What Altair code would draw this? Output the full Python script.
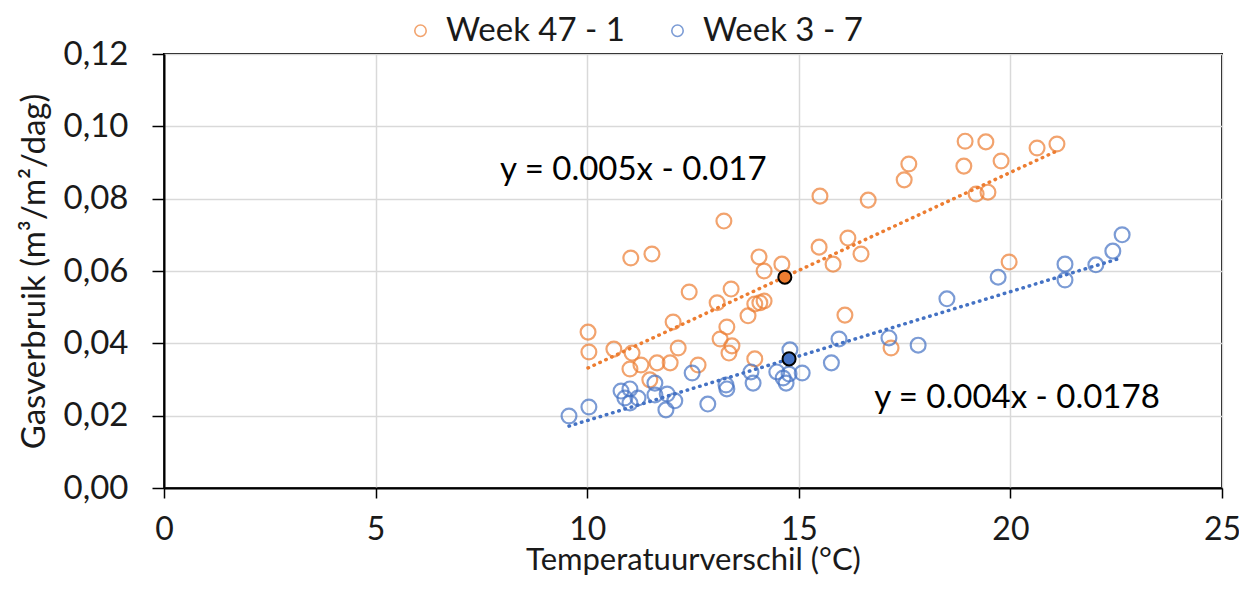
import altair as alt
import pandas as pd

series_names = ["Week 47 - 1", "Week 3 - 7"]
series_colors = ["#ED7D31", "#4472C4"]

orange_x = [10.02, 10.04, 10.63, 11.03, 11.53, 11.06, 11.01, 11.27, 11.48, 11.65, 11.96, 12.03,
            12.15, 12.41, 12.62, 13.07, 13.23, 13.14, 13.30, 13.35, 13.40, 13.42, 13.80, 13.96,
            14.08, 14.18, 13.96, 14.06, 14.18, 14.60, 15.48, 15.50, 15.81, 16.09, 16.16, 16.47,
            16.64, 17.18, 17.49, 17.60, 18.90, 18.93, 19.19, 19.42, 19.47, 19.78, 19.97, 20.63, 21.10]
orange_y = [0.0431, 0.0376, 0.0384, 0.0636, 0.0647, 0.0373, 0.0329, 0.0340, 0.0299, 0.0346, 0.0346, 0.0459,
            0.0387, 0.0542, 0.0340, 0.0512, 0.0738, 0.0412, 0.0445, 0.0373, 0.0550, 0.0393, 0.0476, 0.0509,
            0.0512, 0.0517, 0.0357, 0.0639, 0.0600, 0.0619, 0.0666, 0.0807, 0.0619, 0.0478, 0.0691, 0.0647,
            0.0796, 0.0387, 0.0852, 0.0896, 0.0890, 0.0959, 0.0813, 0.0957, 0.0818, 0.0904, 0.0625, 0.0940, 0.0951]

blue_x = [9.57, 10.04, 10.80, 11.01, 10.89, 11.01, 11.20, 11.60, 11.60, 11.89, 12.07, 11.86,
          12.48, 12.85, 13.28, 13.30, 13.87, 13.92, 14.48, 14.63, 14.70, 14.77, 14.79, 15.08,
          15.77, 15.95, 17.13, 17.82, 18.50, 19.71, 21.29, 21.29, 22.02, 22.42, 22.64]
blue_y = [0.0199, 0.0224, 0.0268, 0.0274, 0.0249, 0.0235, 0.0249, 0.0290, 0.0257, 0.0260, 0.0241, 0.0216,
          0.0318, 0.0232, 0.0285, 0.0274, 0.0321, 0.0290, 0.0321, 0.0304, 0.0290, 0.0315, 0.0382, 0.0318,
          0.0346, 0.0412, 0.0415, 0.0395, 0.0523, 0.0583, 0.0619, 0.0575, 0.0617, 0.0655, 0.0700]

mean_x = [14.67, 14.77]
mean_y = [0.0583, 0.0357]

ann_text = ["y = 0.005x - 0.017", "y = 0.004x - 0.0178"]
ann_x = [7.94, 16.78]
ann_y = [0.0879, 0.0249]

FONT = "Lato"
FS = 33
TXT = "#1a1a1a"

df = pd.DataFrame({
    "x": orange_x + blue_x,
    "y": orange_y + blue_y,
    "series": [series_names[0]] * len(orange_x) + [series_names[1]] * len(blue_x),
})
df_mean = pd.DataFrame({"x": mean_x, "y": mean_y, "series": series_names})
df_ann = pd.DataFrame({"x": ann_x, "y": ann_y, "label": ann_text})

xscale = alt.Scale(domain=[0, 25], nice=False, zero=True)
yscale = alt.Scale(domain=[0, 0.12], nice=False)
cscale = alt.Scale(domain=series_names, range=series_colors)

xenc = alt.X("x:Q", scale=xscale, title="Temperatuurverschil (°C)",
             axis=alt.Axis(values=[0, 5, 10, 15, 20, 25], labelFontSize=FS - 1, titleFontSize=FS - 2,
                           labelFont=FONT, titleFont=FONT, labelColor=TXT, titleColor=TXT,
                           titleFontWeight="normal", labelPadding=16, titlePadding=0,
                           labelFlush=False, labelOverlap=False,
                           tickSize=10, tickColor="black", tickWidth=1.5,
                           domainColor="black", domainWidth=2,
                           grid=True, gridColor="#d9d9d9", gridWidth=1.5))
yenc = alt.Y("y:Q", scale=yscale, title="Gasverbruik (m³/m²/dag)",
             axis=alt.Axis(values=[0, 0.02, 0.04, 0.06, 0.08, 0.10, 0.12],
                           labelExpr="replace(format(datum.value, '.2f'), '.', ',')",
                           labelFontSize=FS, titleFontSize=FS, labelFont=FONT, titleFont=FONT,
                           labelColor=TXT, titleColor=TXT, titleFontWeight="normal",
                           labelPadding=24, titlePadding=12, labelFlush=False, labelOverlap=False,
                           tickSize=12, tickColor="black", tickWidth=1.5,
                           domainColor="black", domainWidth=2,
                           grid=True, gridColor="#d9d9d9", gridWidth=1.5))

points = alt.Chart(df).mark_point(shape="circle", filled=False, size=220, strokeWidth=2.2).encode(
    x=xenc, y=yenc,
    color=alt.Color("series:N", scale=cscale, sort=series_names,
                    legend=alt.Legend(title=None, orient="none", direction="horizontal",
                                      legendX=240, legendY=-40,
                                      labelFontSize=FS, labelFont=FONT, labelColor=TXT,
                                      symbolType="circle", symbolSize=130, symbolStrokeWidth=1.6,
                                      labelOffset=9, columnPadding=36, labelLimit=400)),
)

trend = alt.Chart(df).transform_regression("x", "y", groupby=["series"]).mark_line(
    strokeDash=[0.5, 6], strokeWidth=3.5, strokeCap="round").encode(
    x="x:Q", y="y:Q",
    color=alt.Color("series:N", scale=cscale, legend=None),
)

means = alt.Chart(df_mean).mark_point(shape="circle", filled=True, size=170, stroke="black",
                                      strokeWidth=2, opacity=1).encode(
    x="x:Q", y="y:Q",
    fill=alt.Fill("series:N", scale=cscale, legend=None),
)

ann = alt.Chart(df_ann).mark_text(align="left", baseline="middle", fontSize=FS, font=FONT,
                                  color="black").encode(
    x="x:Q", y="y:Q", text="label:N")

chart = alt.layer(trend, points, means, ann).resolve_legend(color="independent").properties(
    width=1058, height=434,
    autosize=alt.AutoSizeParams(type="none"),
    padding={"left": 156, "top": 46, "right": 17, "bottom": 89},
).configure_view(stroke="black", strokeWidth=2)

chart.save("out.html", embed_options={"renderer": "svg", "actions": False})
